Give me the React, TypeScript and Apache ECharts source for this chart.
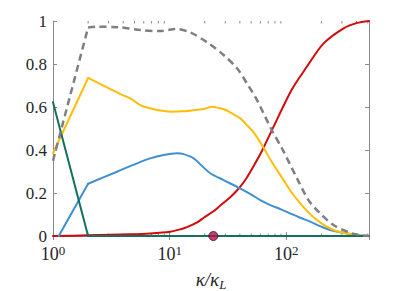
import React, { useEffect, useRef } from "react";
import * as echarts from "echarts";

// kappa / kappa_L sample positions and values
const yellowK = [1, 2, 3.78, 4.6, 5.6, 6.8, 7.8, 10.1, 13, 17.2, 20, 23.1, 27, 30, 33, 40.3, 46, 52.5, 63.9, 75, 94.8, 112, 131.8, 155, 183, 215, 254, 300, 353, 420, 512];
const yellowV = [0.385, 0.735, 0.66, 0.64, 0.609, 0.594, 0.586, 0.578, 0.58, 0.587, 0.592, 0.601, 0.594, 0.587, 0.575, 0.547, 0.515, 0.482, 0.41, 0.345, 0.26, 0.2, 0.152, 0.11, 0.074, 0.048, 0.028, 0.016, 0.009, 0.004, 0];

const blueK = [1.12, 2, 3.54, 5.25, 6.8, 8.9, 11.6, 13, 16.1, 19, 22.3, 29, 37.8, 49, 59.8, 73, 90, 108, 130, 160, 195, 238, 331, 420, 512];
const blueV = [0, 0.243, 0.299, 0.338, 0.361, 0.377, 0.385, 0.382, 0.361, 0.325, 0.292, 0.26, 0.229, 0.196, 0.167, 0.144, 0.124, 0.105, 0.086, 0.067, 0.046, 0.028, 0.012, 0.004, 0];

const grayK = [1, 2, 2.3, 3.66, 5.6, 8.3, 11.2, 15, 21.6, 29, 37.8, 46, 56, 75, 91.8, 123.6, 155, 195, 254, 353, 420, 512];
const grayV = [0.35, 0.97, 0.973, 0.971, 0.958, 0.953, 0.963, 0.947, 0.896, 0.842, 0.78, 0.71, 0.633, 0.493, 0.408, 0.268, 0.167, 0.105, 0.051, 0.015, 0.005, 0];

const redK = [1, 2, 4.6, 6.8, 10.1, 12.4, 14.1, 17.2, 19.6, 23.8, 27.2, 33.1, 40.3, 46, 49.3, 59.8, 75, 111, 150, 209, 310, 400, 512];
const redV = [0, 0.003, 0.008, 0.012, 0.02, 0.031, 0.041, 0.063, 0.085, 0.115, 0.142, 0.18, 0.229, 0.272, 0.3, 0.38, 0.49, 0.679, 0.787, 0.896, 0.966, 0.99, 1.0];

const tealK = [1, 2, 512];
const tealV = [0.622, 0, 0];

const markerK = [23.7];
const markerV = [0];

const yTicks = [0, 0.2, 0.4, 0.6, 0.8, 1];
const minorTicks = [2, 3, 4, 5, 6, 7, 8, 9, 20, 30, 40, 50, 60, 70, 80, 90, 200, 300, 400, 500];

const FONT = "Liberation Serif";
const AXIS = "#8a8a8a";
const TXT = "#262626";

const zip = (k: number[], v: number[]) => k.map((x, i) => [x, v[i]]);

export default function App() {
  const ref = useRef<HTMLDivElement>(null);
  useEffect(() => {
    document.body.style.margin = "0";
    const chart = echarts.init(ref.current!, null, { renderer: "svg" });
    const line = (k: number[], v: number[], color: string, z: number, split: number, extraStyle: any = {}) => {
      const mk = (data: number[][], smooth: number) => ({
        type: "line",
        data,
        showSymbol: false,
        symbol: "none",
        clip: false,
        smooth,
        lineStyle: { color, width: 2, cap: "round", join: "round", ...extraStyle },
        z,
      });
      const all = zip(k, v);
      if (split <= 0) return [mk(all, 0.3)];
      return [mk(all.slice(0, split + 1), 0), mk(all.slice(split), 0.3)];
    };
    chart.setOption({
      animation: false,
      backgroundColor: "#ffffff",
      textStyle: { fontFamily: FONT },
      grid: { left: 53, right: 38, top: 21, bottom: 55, outerBoundsMode: "none", containLabel: false },
      xAxis: [
        {
          type: "log",
          logBase: 10,
          min: 1,
          max: 512,
          position: "bottom",
          axisLine: { show: true, lineStyle: { color: AXIS, width: 1 } },
          axisTick: { show: true, inside: true, length: 4, lineStyle: { color: AXIS } },
          splitLine: { show: false },
          axisLabel: {
            margin: 8,
            showMaxLabel: false,
            fontFamily: FONT,
            fontSize: 17,
            color: TXT,
            formatter: (v: number) => {
              const e = Math.log10(v);
              if (Math.abs(e - Math.round(e)) > 1e-6) return "";
              return `{b|10}{s|${Math.round(e)}}`;
            },
            rich: {
              b: { fontFamily: FONT, fontSize: 18, color: TXT, lineHeight: 19, verticalAlign: "bottom" },
              s: { fontFamily: FONT, fontSize: 13, color: TXT, lineHeight: 11, verticalAlign: "top" },
            },
          },
          name: "{a|κ/κ}{b|L}",
          nameLocation: "middle",
          nameGap: 27,
          nameTextStyle: {
            fontFamily: FONT,
            rich: {
              a: { fontFamily: FONT, fontSize: 19, fontStyle: "italic", color: TXT, lineHeight: 18 },
              b: { fontFamily: FONT, fontSize: 13, fontStyle: "italic", color: TXT, lineHeight: 14, padding: [10, 0, 0, 0] },
            },
          },
        },
        {
          type: "log",
          logBase: 10,
          min: 1,
          max: 512,
          position: "top",
          axisLine: { show: true, lineStyle: { color: AXIS, width: 1 } },
          axisTick: { show: true, inside: true, length: 4, lineStyle: { color: AXIS } },
          axisLabel: { show: false },
          splitLine: { show: false },
        },
      ],
      yAxis: [
        {
          type: "value",
          min: 0,
          max: 1,
          interval: 0.2,
          position: "left",
          axisLine: { show: true, lineStyle: { color: AXIS, width: 1 } },
          axisTick: { show: true, inside: true, length: 4, lineStyle: { color: AXIS } },
          splitLine: { show: false },
          axisLabel: {
            margin: 6,
            fontFamily: FONT,
            fontSize: 17,
            color: TXT,
            formatter: (v: number) => {
              const t = yTicks.find((x) => Math.abs(x - v) < 1e-6);
              if (t === undefined) return "";
              return t === 0 ? "0" : t === 1 ? "1" : t.toFixed(1);
            },
          },
        },
        {
          type: "value",
          min: 0,
          max: 1,
          interval: 0.2,
          position: "right",
          axisLine: { show: true, lineStyle: { color: AXIS, width: 1 } },
          axisTick: { show: true, inside: true, length: 4, lineStyle: { color: AXIS } },
          axisLabel: { show: false },
          splitLine: { show: false },
        },
      ],
      series: [
        {
          type: "custom",
          data: minorTicks.map((v) => [v, 0]),
          clip: false,
          silent: true,
          z: 1,
          renderItem: (params: any, api: any) => {
            const v = api.value(0);
            const pb = api.coord([v, 0]);
            const pt = api.coord([v, 1]);
            return {
              type: "group",
              children: [
                { type: "line", shape: { x1: pb[0], y1: pb[1], x2: pb[0], y2: pb[1] - 2.5 }, style: { stroke: AXIS, lineWidth: 1 } },
                { type: "line", shape: { x1: pt[0], y1: pt[1], x2: pt[0], y2: pt[1] + 2.5 }, style: { stroke: AXIS, lineWidth: 1 } },
              ],
            };
          },
        },
        ...line(redK, redV, "#d20a0a", 2, 0),
        ...line(blueK, blueV, "#3f8fd2", 3, 1),
        ...line(yellowK, yellowV, "#ffbd0a", 3, 1),
        ...line(tealK, tealV, "#13705f", 4, 1),
        ...line(grayK, grayV, "#7f7f7f", 5, 1, { width: 2.5, type: [7, 4.5], cap: "butt" }),
        {
          type: "scatter",
          data: zip(markerK, markerV),
          symbol: "circle",
          symbolSize: 9,
          clip: false,
          z: 10,
          itemStyle: { color: "#b3104e", borderColor: "#3d0a1c", borderWidth: 1 },
        },
      ],
    });
    return () => chart.dispose();
  }, []);
  return <div ref={ref} style={{ width: 407, height: 291 }} />;
}
